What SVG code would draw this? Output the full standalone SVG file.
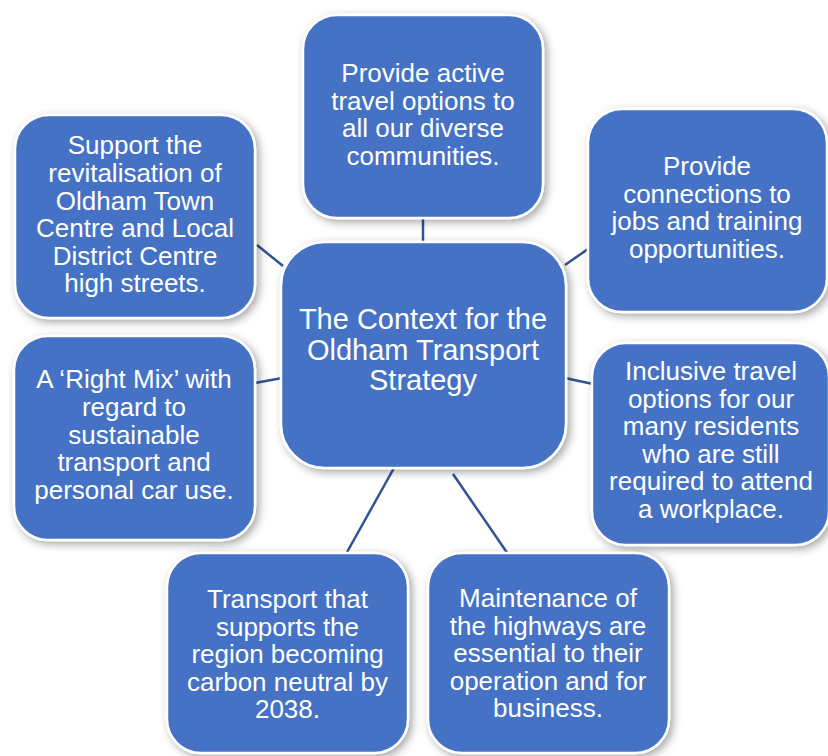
<svg xmlns="http://www.w3.org/2000/svg" width="828" height="756" viewBox="0 0 828 756">
<defs>
<filter id="sh" x="-20%" y="-20%" width="140%" height="140%">
<feDropShadow dx="3" dy="3" stdDeviation="4" flood-color="#000" flood-opacity="0.35"/>
</filter>
<style>
.box{fill:#4472C4;stroke:#fff;stroke-width:2.5;filter:url(#sh)}
.t{fill:#fff;font-family:"Liberation Sans",Arial,sans-serif;font-size:26px;text-anchor:middle}
.c{font-size:29px}
.e{stroke:#2F5597;stroke-width:2.5;fill:none}
</style>
</defs>
<rect width="828" height="756" fill="#fff"/>
<g id="connectors">
<line class="e" x1="423" y1="219" x2="423" y2="242"/>
<line class="e" x1="257" y1="245" x2="283" y2="266"/>
<line class="e" x1="565" y1="265" x2="588" y2="249"/>
<line class="e" x1="255" y1="383" x2="282" y2="378"/>
<line class="e" x1="565" y1="378" x2="593" y2="384"/>
<line class="e" x1="394" y1="468" x2="346" y2="554"/>
<line class="e" x1="453" y1="474" x2="508" y2="554"/>
</g>
<g id="n-top">
<rect class="box" x="303" y="15" width="240" height="203" rx="34"/>
<text class="t"><tspan x="423" y="82">Provide active</tspan><tspan x="423" y="109.6">travel options to</tspan><tspan x="423" y="137.2">all our diverse</tspan><tspan x="423" y="164.8">communities.</tspan></text>
</g>
<g id="n-topleft">
<rect class="box" x="15" y="115" width="240" height="203" rx="34"/>
<text class="t"><tspan x="135" y="154.3">Support the</tspan><tspan x="135" y="181.9">revitalisation of</tspan><tspan x="135" y="209.5">Oldham Town</tspan><tspan x="135" y="237.1">Centre and Local</tspan><tspan x="135" y="264.7">District Centre</tspan><tspan x="135" y="292.3">high streets.</tspan></text>
</g>
<g id="n-topright">
<rect class="box" x="588" y="109" width="239" height="203" rx="34"/>
<text class="t"><tspan x="707" y="175">Provide</tspan><tspan x="707" y="202.6">connections to</tspan><tspan x="707" y="230.2">jobs and training</tspan><tspan x="707" y="257.8">opportunities.</tspan></text>
</g>
<g id="n-center">
<rect class="box" x="281" y="242" width="285" height="226" rx="44"/>
<text class="t c"><tspan x="423" y="329">The Context for the</tspan><tspan x="423" y="359.5">Oldham Transport</tspan><tspan x="423" y="390">Strategy</tspan></text>
</g>
<g id="n-left">
<rect class="box" x="14" y="336" width="241" height="204" rx="34"/>
<text class="t"><tspan x="134" y="388.3">A ‘Right Mix’ with</tspan><tspan x="134" y="415.9">regard to</tspan><tspan x="134" y="443.5">sustainable</tspan><tspan x="134" y="471.1">transport and</tspan><tspan x="134" y="498.7">personal car use.</tspan></text>
</g>
<g id="n-right">
<rect class="box" x="592" y="343" width="237" height="202" rx="34"/>
<text class="t"><tspan x="711" y="380">Inclusive travel</tspan><tspan x="711" y="407.6">options for our</tspan><tspan x="711" y="435.2">many residents</tspan><tspan x="711" y="462.8">who are still</tspan><tspan x="711" y="490.4">required to attend</tspan><tspan x="711" y="518">a workplace.</tspan></text>
</g>
<g id="n-bottomleft">
<rect class="box" x="167" y="553" width="241" height="200" rx="34"/>
<text class="t"><tspan x="287.5" y="608">Transport that</tspan><tspan x="287.5" y="635.6">supports the</tspan><tspan x="287.5" y="663.2">region becoming</tspan><tspan x="287.5" y="690.8">carbon neutral by</tspan><tspan x="287.5" y="718.4">2038.</tspan></text>
</g>
<g id="n-bottomright">
<rect class="box" x="428" y="553" width="241" height="200" rx="34"/>
<text class="t"><tspan x="548" y="607">Maintenance of</tspan><tspan x="548" y="634.6">the highways are</tspan><tspan x="548" y="662.2">essential to their</tspan><tspan x="548" y="689.8">operation and for</tspan><tspan x="548" y="717.4">business.</tspan></text>
</g>
</svg>
